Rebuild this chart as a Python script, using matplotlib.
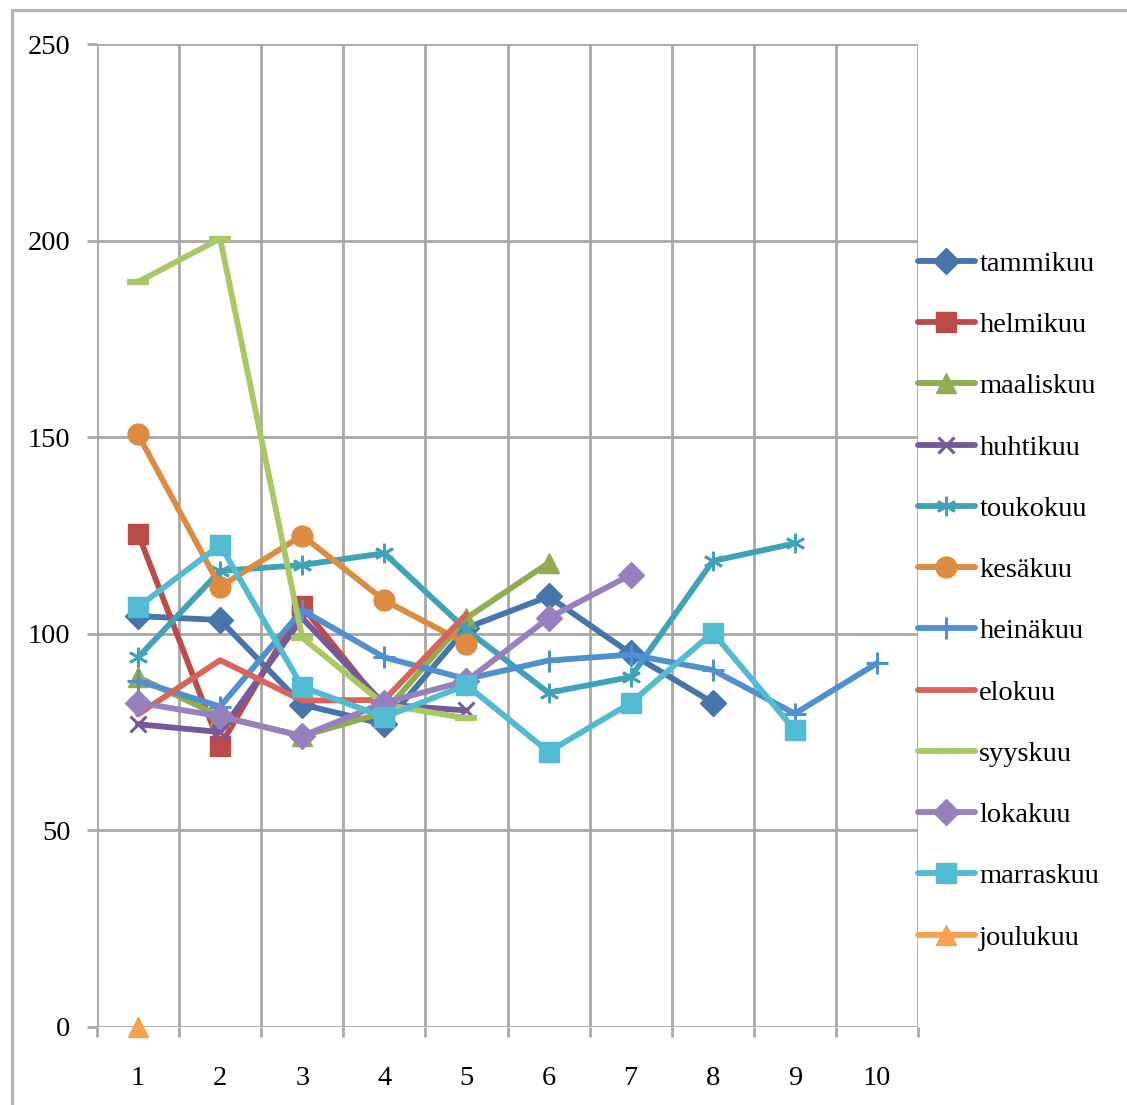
import numpy as np
import matplotlib
matplotlib.use("Agg")
from matplotlib import pyplot as plt
from matplotlib.patches import Rectangle

plt.rcParams["font.family"] = ["Liberation Serif", "DejaVu Serif"]

months = ["tammikuu", "helmikuu", "maaliskuu", "huhtikuu", "toukokuu", "kesäkuu",
          "heinäkuu", "elokuu", "syyskuu", "lokakuu", "marraskuu", "joulukuu"]

tammikuu = [104.5, 103.5, 82, 77, 101.5, 109.5, 95, 82.5]
helmikuu = [125.5, 71.5, 107, 81]
maaliskuu = [89, 79, 74, 80, 104, 118]
huhtikuu = [77, 75, 104, 82, 80.5]
toukokuu = [94, 116, 117.5, 120.5, 101, 85, 89, 118.5, 123]
kesakuu = [150.7, 112, 125, 108.5, 97.5]
heinakuu = [88, 81.5, 106, 94, 88.5, 93.2, 94.7, 90.8, 79.7, 92.5]
elokuu = [79.5, 93.3, 83, 83.2, 105]
syyskuu = [189.5, 200.5, 99, 82, 78.5]
lokakuu = [82.5, 79, 74, 82.5, 88, 104, 115]
marraskuu = [106.8, 122.6, 86.5, 78.8, 87, 70, 82.4, 100.3, 75.5]
joulukuu = [0]

series = [tammikuu, helmikuu, maaliskuu, huhtikuu, toukokuu, kesakuu,
          heinakuu, elokuu, syyskuu, lokakuu, marraskuu, joulukuu]

colors = ["#4675AC", "#BA4B48", "#8FAD50", "#76599A", "#40A2B8", "#DC8B40",
          "#5090CF", "#D9645A", "#A8C864", "#9880BE", "#52BAD1", "#F8A04C"]
markers = ["D", "s", "^", "x", (6, 2, 0), "o", "+", "None", "_", "D", "s", "^"]
msizes = [13, 15, 14, 12, 14, 15, 16, 0, 16, 13, 15, 15]
medges = [1, 1, 1, 2.2, 2.0, 1, 2.2, 0, 4.5, 1, 1, 1]

fig = plt.figure(figsize=(11.27, 11.05), dpi=100)
ax = fig.add_axes([97 / 1127, 1 - 1027 / 1105, (918 - 97) / 1127, (1027 - 44) / 1105])

# outer chart frame
fig.patches.append(Rectangle((12 / 1127, -0.05), 1.1, 1 - 10 / 1105 + 0.05,
                             transform=fig.transFigure, fill=False,
                             edgecolor="#B4B4B4", linewidth=2.2, zorder=0))

for i, vals in enumerate(series):
    x = np.arange(1, len(vals) + 1)
    ax.plot(x, vals, color=colors[i], linewidth=4.2, marker=markers[i],
            markersize=msizes[i], markerfacecolor=colors[i],
            markeredgecolor=colors[i], markeredgewidth=medges[i],
            solid_capstyle="round", solid_joinstyle="round",
            label=months[i], clip_on=False, zorder=3 + i)

grid_c = "#A8A8A8"
ax.set_xlim(0.5, 10.5)
ax.set_ylim(0, 250)
ax.set_yticks(np.arange(0, 251, 50))
ax.set_xticks(np.arange(1, 11))
ax.set_xticks(np.arange(0.5, 10.6, 1), minor=True)
ax.grid(True, axis="y", color=grid_c, linewidth=2.0)
ax.grid(True, axis="x", which="minor", color=grid_c, linewidth=2.0)
ax.set_axisbelow(True)
for s in ax.spines.values():
    s.set_visible(False)
ax.tick_params(axis="y", length=7, width=2.0, color=grid_c, pad=12,
               labelsize=20.5)
ax.tick_params(axis="x", which="major", length=0, pad=28, labelsize=20.5)
ax.tick_params(axis="x", which="minor", length=7, width=2.0, color=grid_c)

ax.legend(loc="upper left", bbox_to_anchor=(918 / 1127, 1 - 251 / 1105),
          bbox_transform=fig.transFigure, frameon=False, fontsize=20.5,
          numpoints=1, handlelength=2.0, handletextpad=0.15,
          labelspacing=1.24, borderaxespad=0, borderpad=0)

fig.savefig("out.png", dpi=100)
